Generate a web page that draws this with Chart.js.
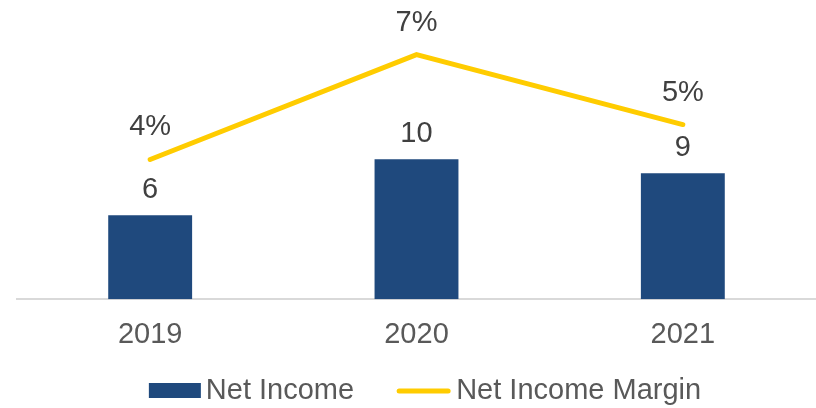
<!DOCTYPE html>
<html>
<head>
<meta charset="utf-8">
<script src="https://cdn.jsdelivr.net/npm/chart.js@4.4.1/dist/chart.umd.min.js"></script>
<style>
  html, body { margin: 0; padding: 0; background: #fff; }
  #wrap { width: 816px; height: 408px; }
</style>
</head>
<body>
<div id="wrap"><canvas id="chart" width="816" height="408"></canvas></div>
<script>
// ---------- Data ----------
const years        = ["2019", "2020", "2021"];
const netIncome    = [6, 10, 9];
const netMargin    = [4, 7, 5];   // %
const seriesNames  = ["Net Income", "Net Income Margin"];

const BLUE   = "#1F497D";
const YELLOW = "#FFCC00";
const FONT   = "'Liberation Sans', Arial, sans-serif";

// ---------- Plugins ----------
// labels above the bars and line points
const valueLabels = {
  id: "valueLabels",
  afterDatasetsDraw(chart) {
    const ctx = chart.ctx;
    ctx.save();
    ctx.font = "29px " + FONT;
    ctx.fillStyle = "#404040";
    ctx.textAlign = "center";
    ctx.textBaseline = "middle";
    chart.data.datasets.forEach((ds, i) => {
      const meta = chart.getDatasetMeta(i);
      meta.data.forEach((el, j) => {
        const isLine = ds.type === "line";
        const txt = isLine ? ds.data[j] + "%" : String(ds.data[j]);
        const dy = isLine ? 32 : 25;
        ctx.fillText(txt, el.x, el.y - dy);
      });
    });
    ctx.restore();
  }
};

// legend row at the bottom (swatch + text, tight gap like the original)
const bottomLegend = {
  id: "bottomLegend",
  afterDraw(chart) {
    const ctx = chart.ctx;
    ctx.save();
    ctx.font = "29px " + FONT;
    ctx.textBaseline = "middle";
    const swW = [52, 55], gap = 5, itemGap = 42;
    const widths = chart.data.datasets.map(ds => ctx.measureText(ds.label).width);
    let total = 0;
    widths.forEach((w, i) => { total += swW[i] + gap + w; });
    total += itemGap * (widths.length - 1);
    let x = (chart.width - total) / 2 + 17; // legend sits a bit right of centre
    const cy = 391;
    chart.data.datasets.forEach((ds, i) => {
      if (ds.type === "line") {
        ctx.strokeStyle = ds.borderColor;
        ctx.lineWidth = 5;
        ctx.lineCap = "round";
        ctx.beginPath();
        ctx.moveTo(x + 3, cy);
        ctx.lineTo(x + swW[i] - 3, cy);
        ctx.stroke();
      } else {
        ctx.fillStyle = ds.backgroundColor;
        ctx.fillRect(x, cy - 8, swW[i], 15);
      }
      x += swW[i] + gap;
      ctx.fillStyle = "#595959";
      ctx.textAlign = "left";
      ctx.fillText(ds.label, x, cy);
      x += widths[i] + itemGap;
    });
    ctx.restore();
  }
};

// ---------- Chart ----------
new Chart(document.getElementById("chart"), {
  type: "bar",
  data: {
    labels: years,
    datasets: [
      {
        type: "bar",
        label: seriesNames[0],
        data: netIncome,
        yAxisID: "y",
        backgroundColor: BLUE,
        barPercentage: 1,
        categoryPercentage: 0.315,
        order: 1
      },
      {
        type: "line",
        label: seriesNames[1],
        data: netMargin,
        yAxisID: "y2",
        borderColor: YELLOW,
        backgroundColor: YELLOW,
        borderWidth: 5,
        borderCapStyle: "round",
        pointRadius: 0,
        tension: 0,
        order: 0
      }
    ]
  },
  options: {
    responsive: false,
    animation: false,
    devicePixelRatio: 1,
    layout: { padding: { left: 17, right: 0, top: 25, bottom: 38 } },
    plugins: {
      legend: { display: false },
      tooltip: { enabled: false }
    },
    scales: {
      x: {
        grid: { display: false, drawTicks: false },
        border: { display: true, color: "#D9D9D9", width: 2 },
        ticks: { color: "#595959", font: { family: FONT, size: 29 }, padding: 18 }
      },
      y:  { display: false, min: 0, max: 19.6 },
      y2: { display: false, min: 0, max: 7.85, position: "right" }
    }
  },
  plugins: [valueLabels, bottomLegend]
});
</script>
</body>
</html>
